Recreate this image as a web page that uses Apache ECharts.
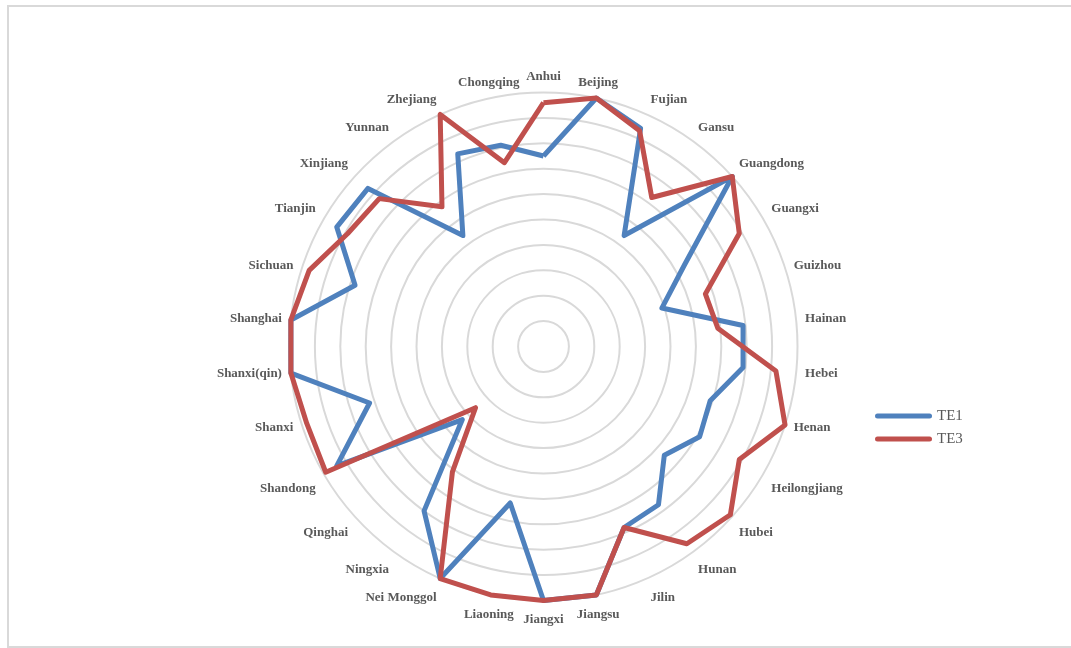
<!DOCTYPE html>
<html>
<head>
<meta charset="utf-8">
<script src="https://cdn.jsdelivr.net/npm/echarts@6/dist/echarts.min.js"></script>
<style>
  html, body { margin: 0; padding: 0; background: #fff; overflow: hidden; }
  #frame { position: absolute; left: 7px; top: 5px; width: 1200px; height: 639px; border: 2px solid #d9d9d9; }
  #main { position: absolute; left: 0; top: 0; width: 1071px; height: 648px; }
</style>
</head>
<body>
<div id="frame"></div>
<div id="main"></div>
<script>
// Categories in clockwise order starting from the top
const categories = ['Anhui','Beijing','Fujian','Gansu','Guangdong','Guangxi','Guizhou','Hainan','Hebei','Henan',
  'Heilongjiang','Hubei','Hunan','Jilin','Jiangsu','Jiangxi','Liaoning','Nei Monggol','Ningxia','Qinghai',
  'Shandong','Shanxi','Shanxi(qin)','Shanghai','Sichuan','Tianjin','Xinjiang','Yunnan','Zhejiang','Chongqing'];
const te1 = [0.75,1.00,0.94,0.54,1.00,0.64,0.49,0.79,0.79,0.69,
  0.71,0.64,0.77,0.78,1.00,1.00,0.63,1.00,0.80,0.43,
  0.94,0.72,1.00,1.00,0.78,0.94,0.93,0.54,0.83,0.81];
const te3 = [0.96,1.00,0.93,0.725,1.00,0.89,0.67,0.69,0.92,1.00,
  0.89,0.99,0.96,0.78,1.00,1.00,1.00,1.00,0.61,0.36,
  0.99,0.98,1.00,1.00,0.97,0.89,0.87,0.68,1.00,0.74];
const seriesNames = ['TE1','TE3'];

// radar runs counter-clockwise: reorder so the picture reads clockwise
const ccw = arr => [arr[0]].concat(arr.slice(1).reverse());

const center = [543.5, 346.5];
const R = 254;
const labelFont = { color: '#595959', fontFamily: 'Liberation Serif', fontWeight: 'bold', fontSize: 13 };

const chart = echarts.init(document.getElementById('main'), null, { renderer: 'canvas' });
chart.setOption({
  backgroundColor: 'transparent',
  animation: false,
  color: ['#4F81BD', '#C0504D'],
  legend: {
    data: seriesNames,
    orient: 'vertical',
    left: 875,
    top: 408,
    padding: 0,
    itemWidth: 57,
    itemHeight: 5,
    itemGap: 7,
    icon: 'path://M2.5,0 L54.5,0 A2.5,2.5 0 0 1 54.5,5 L2.5,5 A2.5,2.5 0 0 1 2.5,0 Z',
    textStyle: { color: '#595959', fontFamily: 'Liberation Serif', fontSize: 15, lineHeight: 16 }
  },
  radar: {
    center: center,
    radius: R,
    startAngle: 90,
    splitNumber: 10,
    shape: 'circle',
    indicator: ccw(categories).map(n => ({ name: n, min: 0, max: 1 })),
    axisName: { show: false },
    axisLine: { show: false },
    axisTick: { show: false },
    axisLabel: { show: false },
    splitArea: { show: false },
    splitLine: { lineStyle: { color: '#d9d9d9', width: 2 } }
  },
  // label ring only (wider ring + negative margin gives the same label anchoring as the original)
  polar: { center: center, radius: R + 26 },
  angleAxis: {
    type: 'category',
    data: categories,
    boundaryGap: false,
    startAngle: 90,
    clockwise: true,
    axisLine: { show: false },
    axisTick: { show: false },
    splitLine: { show: false },
    axisLabel: Object.assign({ margin: -17, interval: 0, padding: [4, 0, 0, 0] }, labelFont)
  },
  radiusAxis: { show: false, min: 0, max: 1 },
  series: [{
    type: 'radar',
    symbol: 'none',
    silent: true,
    data: [
      { name: seriesNames[0], value: ccw(te1), lineStyle: { width: 5, color: '#4F81BD' } },
      { name: seriesNames[1], value: ccw(te3), lineStyle: { width: 5, color: '#C0504D' } }
    ]
  }]
});
</script>
</body>
</html>
